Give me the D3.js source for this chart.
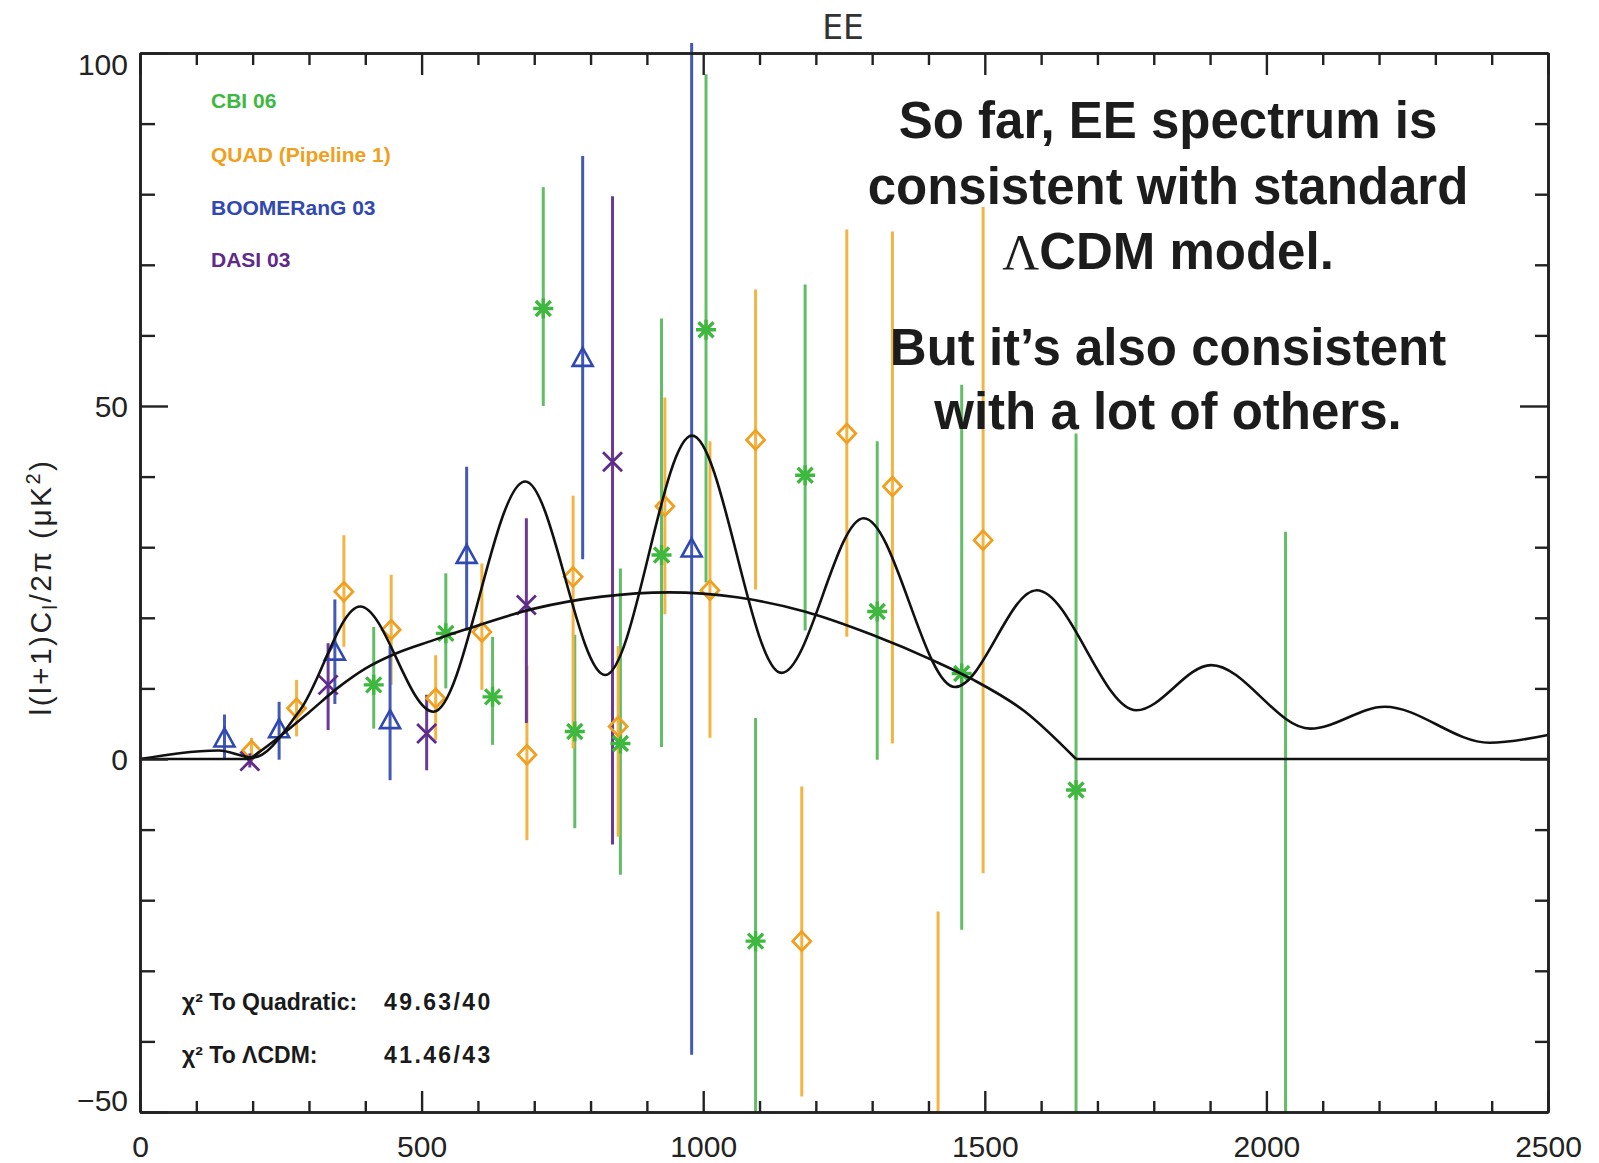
<!DOCTYPE html>
<html><head><meta charset="utf-8">
<script src="https://cdn.jsdelivr.net/npm/d3@7"></script>
<style>body{margin:0;background:#fff;} svg{display:block;}</style>
</head><body>
<svg id="c" width="1599" height="1163"></svg>
<script>
// ---------- data ----------
const xMajorTicks = [0, 500, 1000, 1500, 2000, 2500];
const yMajorTicks = [-50, 0, 50, 100];

// CBI 06 (green asterisks)
const cbiL  = [415, 543, 626, 716, 772, 853, 926, 1005, 1093, 1181, 1309, 1459, 1662, 2034];
const cbiV  = [10.5, 17.8, 8.8, 63.8, 3.9, 2.2, 28.9, 60.8, -25.8, 40.2, 20.9, 12.1, -4.4, -56];
const cbiLo = [4.3, 10.0, 2.0, 50.0, -9.8, -16.4, 1.7, 25.0, -57.4, 18.2, -0.1, -24.2, -54.9, -144];
const cbiHi = [18.7, 26.3, 17.3, 81.0, 17.6, 27.0, 62.4, 97.0, 5.8, 67.2, 45.0, 53.0, 46.1, 32.2];

// QUAD Pipeline 1 (orange diamonds)
const quadL  = [198, 278, 362, 446, 525, 607, 687, 769, 849, 932, 1012, 1093, 1175, 1255, 1336, 1417, 1497];
const quadV  = [1.2, 7.2, 23.7, 18.3, 8.6, 18.0, 0.6, 25.8, 4.6, 35.8, 23.9, 45.2, -25.8, 46.1, 38.6, -60, 31.0];
const quadLo = [-0.5, 3.2, 15.9, 10.5, 2.7, 9.8, -11.5, 1.5, -11.0, 20.5, 3.0, 24.0, -47.8, 17.3, 2.2, -98, -16.2];
const quadHi = [3.0, 11.2, 31.7, 26.1, 14.7, 27.7, 13.3, 37.3, 16.0, 51.2, 45.0, 66.5, -3.9, 75.0, 74.7, -21.6, 78.2];

// BOOMERanG 03 (blue triangles)
const boomL  = [150, 247, 346, 444, 580, 786, 979.5];
const boomV  = [2.7, 4.0, 15.0, 5.3, 28.7, 56.6, 29.6];
const boomLo = [-0.1, -0.1, 7.8, -3.0, 18.2, 28.3, -41.9];
const boomHi = [6.3, 8.1, 22.6, 16.0, 41.4, 85.4, 101.4];

// DASI 03 (purple crosses)
const dasiL  = [195, 334, 509, 686, 839];
const dasiV  = [-0.3, 10.5, 3.6, 21.8, 42.1];
const dasiLo = [-1.2, 4.1, -1.6, 5.1, -12.1];
const dasiHi = [0.8, 16.4, 9.1, 34.1, 79.7];

// LambdaCDM model curve: turning points
const lcdmL = [0, 140, 200, 284, 391, 521, 684, 826, 980, 1139, 1285, 1447, 1592, 1769, 1902, 2078, 2210, 2396, 2500];
const lcdmV = [0, 1.2, 0.2, 6.9, 21.6, 6.7, 39.3, 11.9, 45.8, 12.2, 34.1, 10.2, 23.9, 6.9, 13.3, 4.3, 7.4, 2.3, 3.4];

// Quadratic fit curve
const fitL = [0, 195, 250, 300, 350, 400, 450, 520, 580, 700, 820, 940, 1060, 1180, 1300, 1410, 1480, 1570, 1662, 2500];
const fitV = [0, 0, 3.3, 6.6, 10.0, 12.8, 14.8, 16.8, 18.4, 21.3, 23.0, 23.6, 22.9, 20.9, 17.6, 13.9, 11.2, 6.8, 0, 0];

const legendLabels = ["CBI 06", "QUAD (Pipeline 1)", "BOOMERanG 03", "DASI 03"];
const chiLabels = ["χ² To Quadratic:", "χ² To ΛCDM:"];
const chiValues = ["49.63/40", "41.46/43"];

// ---------- drawing ----------
const svg = d3.select("#c");
svg.append("rect").attr("width", 1599).attr("height", 1163).attr("fill", "#fff");

const x = d3.scaleLinear().domain([0, 2500]).range([140, 1548]);
const y = d3.scaleLinear().domain([-50, 100]).range([1112, 53]);

const COL = {
  cbiBar: "#62bd66", cbiMk: "#3fb83f",
  quadBar: "#f4b444", quadMk: "#f0a020",
  boomBar: "#4458b8", boomMk: "#3048b0",
  dasiBar: "#6a3a96", dasiMk: "#5f2a8a"
};

svg.append("defs").append("clipPath").attr("id", "clip")
  .append("rect").attr("x", 140).attr("y", 30).attr("width", 1408).attr("height", 1112 - 30);

const marks = svg.append("g").attr("clip-path", "url(#clip)");

function series(L, V, Lo, Hi) {
  return L.map((l, i) => ({ l, v: V[i], lo: Lo[i], hi: Hi[i] }));
}
const cbi = series(cbiL, cbiV, cbiLo, cbiHi);
const quad = series(quadL, quadV, quadLo, quadHi);
const boom = series(boomL, boomV, boomLo, boomHi);
const dasi = series(dasiL, dasiV, dasiLo, dasiHi);

function bars(data, color) {
  marks.append("g").selectAll("line").data(data).join("line")
    .attr("x1", d => x(d.l)).attr("x2", d => x(d.l))
    .attr("y1", d => y(d.lo)).attr("y2", d => y(d.hi))
    .attr("stroke", color).attr("stroke-width", 3);
}
bars(cbi, COL.cbiBar);
bars(quad, COL.quadBar);
bars(boom, COL.boomBar);
bars(dasi, COL.dasiBar);

// curves
const lineMono = d3.line().x(d => x(d[0])).y(d => y(d[1])).curve(d3.curveMonotoneX);
const lineLin = d3.line().x(d => x(d[0])).y(d => y(d[1]));
const lcdmPts = lcdmL.map((l, i) => [l, lcdmV[i]]);
const fitPts = fitL.map((l, i) => [l, fitV[i]]);
const fitCurve = fitPts.slice(1, fitPts.length - 1);
const curves = svg.append("g").attr("fill", "none").attr("stroke", "#111").attr("stroke-width", 2.6);
curves.append("path").attr("d", lineMono(lcdmPts));
curves.append("path").attr("d", lineLin(fitPts.slice(0, 2)));
curves.append("path").attr("d", lineMono(fitCurve));
curves.append("path").attr("d", lineLin(fitPts.slice(fitPts.length - 2)));

// markers
const asterisk = "M-10,0H10M0,-10V10M-7.5,-7.5L7.5,7.5M-7.5,7.5L7.5,-7.5";
const cross = "M-9.5,-9.5L9.5,9.5M-9.5,9.5L9.5,-9.5";
const tri = "M0,-11.5L10,6.5L-10,6.5Z";
const diamond = "M0,-9.5L9,0L0,9.5L-9,0Z";

function markers(data, path, color, sw) {
  marks.append("g").selectAll("path").data(data).join("path")
    .attr("transform", d => `translate(${x(d.l)},${y(d.v)})`)
    .attr("d", path).attr("fill", "none").attr("stroke", color)
    .attr("stroke-width", sw).attr("stroke-linejoin", "miter");
}
markers(cbi, asterisk, COL.cbiMk, 3.4);
markers(quad, diamond, COL.quadMk, 2.8);
markers(boom, tri, COL.boomMk, 2.6);
markers(dasi, cross, COL.dasiMk, 2.8);

// axes
const minorX = d3.range(0, 2501, 100).filter(v => v % 500 !== 0);
const minorY = d3.range(-50, 101, 10).filter(v => v % 50 !== 0);
const fontTick = "'Liberation Sans', Arial, Helvetica, sans-serif";

function styleAxis(g) {
  g.selectAll("path.domain").attr("stroke", "#222").attr("stroke-width", 2.6);
  g.selectAll(".tick line").attr("stroke", "#222").attr("stroke-width", 2.4);
  g.selectAll("text").attr("fill", "#222").style("font-family", fontTick).style("font-size", "30px");
}

const gB = svg.append("g").attr("transform", "translate(0,1112)")
  .call(d3.axisBottom(x).tickValues(xMajorTicks).tickSizeInner(-21).tickSizeOuter(0).tickPadding(24).tickFormat(d3.format("d")));
styleAxis(gB);
const gBm = svg.append("g").attr("transform", "translate(0,1112)")
  .call(d3.axisBottom(x).tickValues(minorX).tickSizeInner(-11).tickSizeOuter(0).tickFormat(""));
styleAxis(gBm);
const gT = svg.append("g").attr("transform", "translate(0,53)")
  .call(d3.axisTop(x).tickValues(xMajorTicks).tickSizeInner(-22).tickSizeOuter(0).tickFormat(""));
styleAxis(gT);
const gTm = svg.append("g").attr("transform", "translate(0,53)")
  .call(d3.axisTop(x).tickValues(minorX).tickSizeInner(-12).tickSizeOuter(0).tickFormat(""));
styleAxis(gTm);

const gL = svg.append("g").attr("transform", "translate(140,0)")
  .call(d3.axisLeft(y).tickValues(yMajorTicks).tickSizeInner(-28).tickSizeOuter(0).tickPadding(12).tickFormat(d => d < 0 ? "−" + Math.abs(d) : String(d)));
styleAxis(gL);
gL.selectAll(".tick text").attr("dy", d => d === 100 ? "0.72em" : d === -50 ? "-0.05em" : "0.34em");
const gLm = svg.append("g").attr("transform", "translate(140,0)")
  .call(d3.axisLeft(y).tickValues(minorY).tickSizeInner(-15).tickSizeOuter(0).tickFormat(""));
styleAxis(gLm);
const gR = svg.append("g").attr("transform", "translate(1548,0)")
  .call(d3.axisRight(y).tickValues(yMajorTicks).tickSizeInner(-28).tickSizeOuter(0).tickFormat(""));
styleAxis(gR);
const gRm = svg.append("g").attr("transform", "translate(1548,0)")
  .call(d3.axisRight(y).tickValues(minorY).tickSizeInner(-13).tickSizeOuter(0).tickFormat(""));
styleAxis(gRm);

// title
svg.append("text").attr("x", 843).attr("y", 39).attr("text-anchor", "middle")
  .style("font-family", "'DejaVu Sans', sans-serif").style("font-size", "33px").attr("fill", "#333").text("EE");

// y label
const yl = svg.append("text").attr("transform", "translate(51,587) rotate(-90)").attr("text-anchor", "middle")
  .style("font-family", fontTick).style("font-size", "30px").style("letter-spacing", "2.4px").attr("fill", "#222");
yl.append("tspan").text("l(l+1)C");
yl.append("tspan").attr("dy", 6).style("font-size", "20px").text("l");
yl.append("tspan").attr("dy", -6).text("/2π  (μK");
yl.append("tspan").attr("dy", -11).style("font-size", "20px").text("2");
yl.append("tspan").attr("dy", 11).text(")");

// legend
const legCols = [COL.cbiMk, COL.quadMk, COL.boomMk, COL.dasiMk];
const legY = [108, 162, 215, 267];
svg.append("g").selectAll("text").data(legendLabels).join("text")
  .attr("x", 211).attr("y", (d, i) => legY[i]).attr("fill", (d, i) => legCols[i])
  .style("font-family", fontTick).style("font-weight", "bold").style("font-size", "21px")
  .text(d => d);

// chi-square text
const chiY = [1010, 1063];
const chiG = svg.append("g").attr("fill", "#1a1a1a").style("font-family", fontTick).style("font-weight", "bold").style("font-size", "23px");
chiG.selectAll("text.lab").data(chiLabels).join("text").attr("class", "lab")
  .attr("x", 182).attr("y", (d, i) => chiY[i]).text(d => d);
chiG.selectAll("text.val").data(chiValues).join("text").attr("class", "val")
  .attr("x", 384).attr("y", (d, i) => chiY[i]).style("letter-spacing", "2.4px").text(d => d);

// annotation
const annot = svg.append("g").attr("fill", "#1c1c1c").attr("text-anchor", "middle")
  .style("font-family", fontTick).style("font-weight", "bold").style("font-size", "51px");
const annLines = ["So far, EE spectrum is", "consistent with standard", null, "But it’s also consistent", "with a lot of others."];
const annY = [138, 204, 269, 365, 429];
annLines.forEach((t, i) => {
  const tx = annot.append("text").attr("x", 1168).attr("y", annY[i]);
  if (t) tx.text(t);
  else {
    tx.append("tspan").style("font-family", "'Liberation Serif', 'Times New Roman', serif").style("font-weight", "normal").text("Λ");
    tx.append("tspan").text("CDM model.");
  }
});
</script>
</body></html>
